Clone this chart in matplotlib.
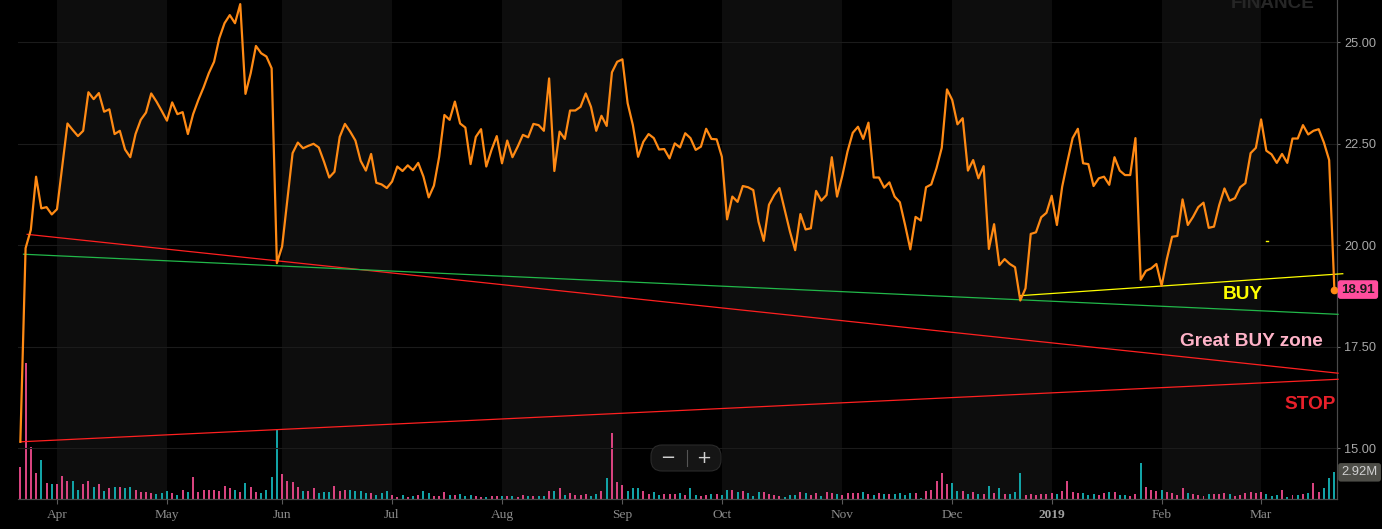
import numpy as np
import pandas as pd
import matplotlib
matplotlib.use("Agg")
import matplotlib.pyplot as plt
from matplotlib.patches import FancyBboxPatch
from matplotlib.lines import Line2D

# ---------------- data ----------------
holidays = ["2018-03-30", "2018-05-28", "2018-07-04", "2018-09-03", "2018-11-22",
            "2018-12-05", "2018-12-25", "2019-01-01", "2019-01-21", "2019-02-18"]
dates = pd.bdate_range("2018-03-21", "2019-03-21")
dates = dates[~dates.isin(pd.to_datetime(holidays))]

close = [
    15.16, 19.93, 20.38, 21.69, 20.91, 20.94, 20.76, 20.89, 21.94, 23.00,
    22.84, 22.69, 22.82, 23.77, 23.60, 23.75, 23.29, 23.35, 22.74, 22.82,
    22.36, 22.17, 22.74, 23.09, 23.27, 23.74, 23.54, 23.31, 23.07, 23.52,
    23.23, 23.28, 22.74, 23.23, 23.58, 23.89, 24.24, 24.52, 25.10, 25.47,
    25.67, 25.47, 25.94, 23.73, 24.24, 24.91, 24.73, 24.65, 24.36, 19.56,
    19.97, 21.12, 22.27, 22.53, 22.39, 22.45, 22.50, 22.41, 22.06, 21.67,
    21.81, 22.67, 22.99, 22.80, 22.58, 22.08, 21.84, 22.25, 21.54, 21.50,
    21.41, 21.57, 21.94, 21.83, 21.97, 21.85, 22.03, 21.69, 21.18, 21.47,
    22.18, 23.21, 23.09, 23.54, 23.00, 22.90, 22.00, 22.67, 22.86, 21.94,
    22.35, 22.69, 22.02, 22.58, 22.17, 22.43, 22.72, 22.66, 22.99, 22.96,
    22.82, 24.11, 21.83, 22.80, 22.62, 23.32, 23.32, 23.41, 23.74, 23.41,
    22.82, 23.19, 22.94, 24.26, 24.52, 24.58, 23.50, 22.96, 22.18, 22.55,
    22.74, 22.64, 22.36, 22.37, 22.14, 22.51, 22.41, 22.76, 22.64, 22.35,
    22.43, 22.87, 22.62, 22.61, 22.18, 20.64, 21.20, 21.07, 21.46, 21.43,
    21.36, 20.58, 20.11, 21.00, 21.24, 21.41, 20.87, 20.34, 19.88, 20.77,
    20.39, 20.42, 21.34, 21.10, 21.24, 22.17, 21.20, 21.71, 22.31, 22.77,
    22.92, 22.62, 23.02, 21.67, 21.67, 21.42, 21.55, 21.20, 21.06, 20.50,
    19.90, 20.70, 20.61, 21.43, 21.50, 21.90, 22.40, 23.84, 23.58, 22.98,
    23.13, 21.84, 22.10, 21.65, 21.95, 19.91, 20.52, 19.51, 19.66, 19.54,
    19.46, 18.64, 18.94, 20.28, 20.32, 20.69, 20.80, 21.22, 20.50, 21.44,
    22.06, 22.64, 22.87, 22.02, 22.00, 21.46, 21.65, 21.69, 21.49, 22.17,
    21.84, 21.73, 21.73, 22.64, 19.15, 19.37, 19.43, 19.54, 19.00, 19.66,
    20.21, 20.23, 21.13, 20.50, 20.70, 20.94, 21.05, 20.43, 20.46, 20.99,
    21.40, 21.10, 21.16, 21.43, 21.53, 22.27, 22.40, 23.10, 22.33, 22.24,
    22.03, 22.25, 22.03, 22.63, 22.63, 22.96, 22.73, 22.82, 22.86, 22.53,
    22.10, 18.91,
]

volume_m = [
    3.5, 14.9, 5.7, 2.9, 4.25, 1.8, 1.6, 1.67, 2.55, 2.0,
    2.0, 1.0, 1.6, 2.0, 1.33, 1.67, 0.93, 1.15, 1.33, 1.26,
    1.15, 1.26, 1.0, 0.78, 0.78, 0.67, 0.56, 0.67, 0.89, 0.67,
    0.44, 1.0, 0.78, 2.37, 0.78, 1.0, 1.0, 1.0, 0.89, 1.44,
    1.15, 1.0, 0.78, 1.78, 1.33, 0.78, 0.67, 1.0, 2.44, 7.55,
    2.74, 2.0, 1.89, 1.33, 0.89, 0.89, 1.15, 0.67, 0.78, 0.78,
    1.44, 0.89, 1.0, 1.0, 0.89, 0.89, 0.67, 0.67, 0.44, 0.67,
    0.89, 0.44, 0.22, 0.44, 0.22, 0.33, 0.44, 0.89, 0.67, 0.33,
    0.33, 0.78, 0.44, 0.44, 0.56, 0.33, 0.44, 0.33, 0.22, 0.22,
    0.33, 0.33, 0.33, 0.33, 0.33, 0.22, 0.44, 0.33, 0.33, 0.33,
    0.33, 0.89, 0.89, 1.22, 0.48, 0.70, 0.48, 0.48, 0.59, 0.37,
    0.59, 0.93, 2.26, 7.25, 1.81, 1.48, 0.93, 1.15, 1.15, 0.93,
    0.59, 0.81, 0.48, 0.59, 0.59, 0.59, 0.70, 0.48, 1.15, 0.48,
    0.37, 0.48, 0.59, 0.59, 0.48, 1.04, 1.04, 0.81, 0.93, 0.70,
    0.37, 0.81, 0.81, 0.59, 0.48, 0.37, 0.26, 0.48, 0.48, 0.81,
    0.70, 0.48, 0.70, 0.37, 0.81, 0.70, 0.59, 0.48, 0.70, 0.67,
    0.67, 0.78, 0.56, 0.44, 0.67, 0.56, 0.56, 0.56, 0.67, 0.44,
    0.67, 0.67, 0.11, 0.89, 1.0, 2.0, 2.89, 1.67, 1.78, 0.89,
    0.89, 0.56, 0.78, 0.56, 0.56, 1.44, 0.67, 1.22, 0.56, 0.56,
    0.78, 2.89, 0.44, 0.56, 0.44, 0.56, 0.56, 0.67, 0.56, 0.89,
    2.0, 0.78, 0.67, 0.67, 0.44, 0.56, 0.44, 0.67, 0.78, 0.78,
    0.44, 0.44, 0.33, 0.56, 3.89, 1.33, 1.0, 0.93, 1.04, 0.81,
    0.70, 0.48, 1.15, 0.70, 0.59, 0.48, 0.37, 0.59, 0.59, 0.59,
    0.70, 0.59, 0.37, 0.48, 0.70, 0.81, 0.70, 0.81, 0.59, 0.37,
    0.48, 1.04, 0.26, 0.48, 0.48, 0.59, 0.70, 1.70, 0.81, 1.15,
    2.26, 2.92,
]

volume_up = [
    0, 0, 0, 0, 1, 0, 1, 0, 0, 0,
    1, 1, 0, 0, 1, 0, 1, 0, 1, 0,
    1, 1, 0, 0, 0, 0, 1, 1, 1, 0,
    1, 0, 1, 0, 0, 0, 0, 0, 0, 0,
    0, 1, 0, 1, 0, 0, 1, 1, 1, 1,
    0, 0, 0, 0, 1, 0, 0, 1, 1, 1,
    0, 0, 0, 1, 1, 1, 1, 0, 1, 1,
    1, 0, 0, 1, 0, 1, 0, 1, 1, 0,
    0, 0, 1, 0, 1, 1, 1, 0, 0, 1,
    0, 0, 1, 0, 1, 0, 0, 1, 0, 1,
    1, 0, 1, 0, 1, 0, 0, 0, 0, 1,
    1, 0, 1, 0, 0, 0, 1, 1, 1, 0,
    0, 1, 1, 0, 0, 0, 1, 0, 1, 1,
    0, 0, 1, 0, 1, 1, 0, 1, 0, 1,
    1, 1, 0, 0, 0, 0, 1, 1, 1, 0,
    1, 0, 0, 1, 0, 0, 1, 0, 0, 0,
    0, 1, 0, 1, 0, 1, 0, 1, 1, 1,
    1, 0, 1, 0, 0, 0, 0, 0, 1, 1,
    0, 1, 0, 1, 0, 1, 0, 1, 0, 1,
    1, 1, 0, 0, 0, 0, 0, 0, 1, 0,
    0, 0, 0, 1, 1, 1, 0, 0, 1, 0,
    1, 1, 0, 0, 1, 0, 0, 0, 1, 0,
    0, 0, 0, 1, 0, 0, 0, 1, 0, 0,
    0, 1, 0, 0, 0, 0, 0, 0, 1, 1,
    1, 0, 1, 0, 1, 0, 1, 0, 0, 1,
    1, 1,
]

# hand-drawn trend lines: (bar position, price) endpoints
line_red_down = [(1.3, 20.27), (251.7, 16.85)]
line_green = [(0.6, 19.78), (251.7, 18.30)]
line_red_up = [(0.0, 15.16), (251.7, 16.70)]
line_yellow = [(191.0, 18.76), (252.6, 19.30)]
stray_yellow = [(238.0, 20.11), (238.35, 20.11)]

price_ticks = [15.0, 17.5, 20.0, 22.5, 25.0]

# ---------------- style ----------------
BG = "#000000"
BAND = "#0d0d0d"
GRID = "#1b1b1b"
AXISC = "#4a4a4a"
LABEL = "#a8a8a8"
ORANGE = "#ff8a14"
PINK_V = "#d8437f"
TEAL_V = "#12a3a6"

W, H = 1382, 529
fig = plt.figure(figsize=(W / 100, H / 100), dpi=100, facecolor=BG)

rect = [18 / W, 30 / H, (1337 - 18) / W, 499 / H]
ax_vol = fig.add_axes(rect)
ax_vol.set_facecolor(BG)
ax = ax_vol.twinx()
ax.patch.set_visible(False)

x = np.arange(len(dates))
close = np.array(close)
volume_m = np.array(volume_m)
volume_up = np.array(volume_up)

# month starts
months = dates.to_period("M")
starts = np.flatnonzero(months[1:] != months[:-1]) + 1
labels = [("%d" % dates[s].year) if dates[s].month == 1 else dates[s].strftime("%b") for s in starts]

xlim = (-0.45, 251.5)
ax_vol.set_xlim(*xlim)
ax.set_xlim(*xlim)

# month bands
for a, b in zip(starts[0::2], starts[1::2]):
    ax_vol.axvspan(a, b, color=BAND, lw=0, zorder=0)

# volume
ax_vol.bar(x, volume_m, width=0.38,
           color=np.where(volume_up == 1, TEAL_V, PINK_V), zorder=2, linewidth=0)
ax_vol.set_ylim(0, 499 * 0.1095)
ax_vol.set_yticks([])

# price axis
ax.set_ylim(25 - (499 - 42.3) / 40.6, 25 + 42.3 / 40.6)
ax.set_yticks(price_ticks)
ax.set_yticklabels(["%.2f" % v for v in price_ticks], family="Liberation Sans",
                   fontsize=9.2, color=LABEL)
ax.tick_params(axis="y", length=2.5, width=0.8, color="#666666", pad=2.5)
ax.grid(axis="y", color=GRID, lw=0.8, zorder=1)
ax.set_axisbelow(True)

for a_ in (ax, ax_vol):
    for s in ("top", "left"):
        a_.spines[s].set_visible(False)
    a_.spines["right"].set_color(AXISC)
    a_.spines["bottom"].set_color(AXISC)
    a_.spines["right"].set_linewidth(0.8)
    a_.spines["bottom"].set_linewidth(0.8)

ax.set_xticks([])
ax_vol.set_xticks(starts)
ax_vol.set_xticklabels(labels, family="Liberation Serif", fontsize=9.6, color="#8c8c8c")
ax_vol.tick_params(axis="x", length=3.5, width=0.8, color="#5a5a5a", pad=4)
for t in ax_vol.get_xticklabels():
    if t.get_text().isdigit():
        t.set_fontweight("bold")
        t.set_color("#a0a0a0")

# trend lines
def seg(pts, color, lw=0.9):
    (x0, y0), (x1, y1) = pts
    ax.add_line(Line2D([x0, x1], [y0, y1], color=color, lw=lw, clip_on=False, zorder=3))

seg(line_red_down, "#ff2020")
seg(line_green, "#22b84a")
seg(line_red_up, "#ff2020")
seg(line_yellow, "#ffff00")
seg(stray_yellow, "#ffff00", lw=1.0)

# price line
ax.plot(x, close, color=ORANGE, lw=1.6, zorder=5, solid_joinstyle="round")
ax.plot([x[-1]], [close[-1]], "o", color=ORANGE, ms=4.5, zorder=6, clip_on=False)

# annotations
txt_kw = dict(family="Liberation Sans", fontweight="bold", fontsize=13.7,
              ha="center", va="center", zorder=7)
ax.text(233.6, 18.79, "BUY", color="#ffff00", **txt_kw)
ax.text(235.1, 17.63, "Great BUY zone", color="#ffb3c8", **txt_kw)
ax.text(246.3, 16.09, "STOP", color="#e8202a", **txt_kw)

# last price label
ax.annotate("%.2f" % close[-1], xy=(1, close[-1]), xycoords=("axes fraction", "data"),
            xytext=(3.0, 0), textcoords="offset points", ha="left", va="center",
            family="Liberation Sans", fontweight="bold", fontsize=9.6, color="#1a1a1a",
            bbox=dict(boxstyle="round,pad=0.25,rounding_size=0.2", fc="#ff4d9d", ec="none"),
            annotation_clip=False, zorder=8)

# last volume label
ax_vol.annotate("%.2fM" % volume_m[-1], xy=(1, volume_m[-1]), xycoords=("axes fraction", "data"),
                xytext=(3.2, 0), textcoords="offset points", ha="left", va="center",
                family="Liberation Sans", fontsize=9.4, color="#d0d0d0",
                bbox=dict(boxstyle="round,pad=0.25,rounding_size=0.2", fc="#4e4e48", ec="none"),
                annotation_clip=False, zorder=8)

# watermark
fig.text(1273 / W, (H - 8) / H, "FINANCE", ha="center", va="baseline",
         family="Liberation Sans", fontweight="bold", fontsize=13.6, color="#262626")

# zoom control
box = FancyBboxPatch((651 / W, (H - 471) / H), 70 / W, 26 / H,
                     boxstyle="round,pad=0,rounding_size=0.008",
                     transform=fig.transFigure, fc="#151515", ec="#2a2a2a", lw=0.8,
                     mutation_aspect=W / H)
fig.patches.append(box)
fig.add_artist(Line2D([687 / W, 687 / W], [(H - 466) / H, (H - 450) / H],
                      transform=fig.transFigure, color="#555555", lw=0.8))
fig.text(668 / W, (H - 458) / H, "\u2212", ha="center", va="center",
         fontsize=13, color="#cfcfcf", family="DejaVu Sans")
fig.text(704 / W, (H - 458) / H, "+", ha="center", va="center",
         fontsize=13, color="#cfcfcf", family="DejaVu Sans")

fig.savefig("out.png", dpi=100, facecolor=BG)
